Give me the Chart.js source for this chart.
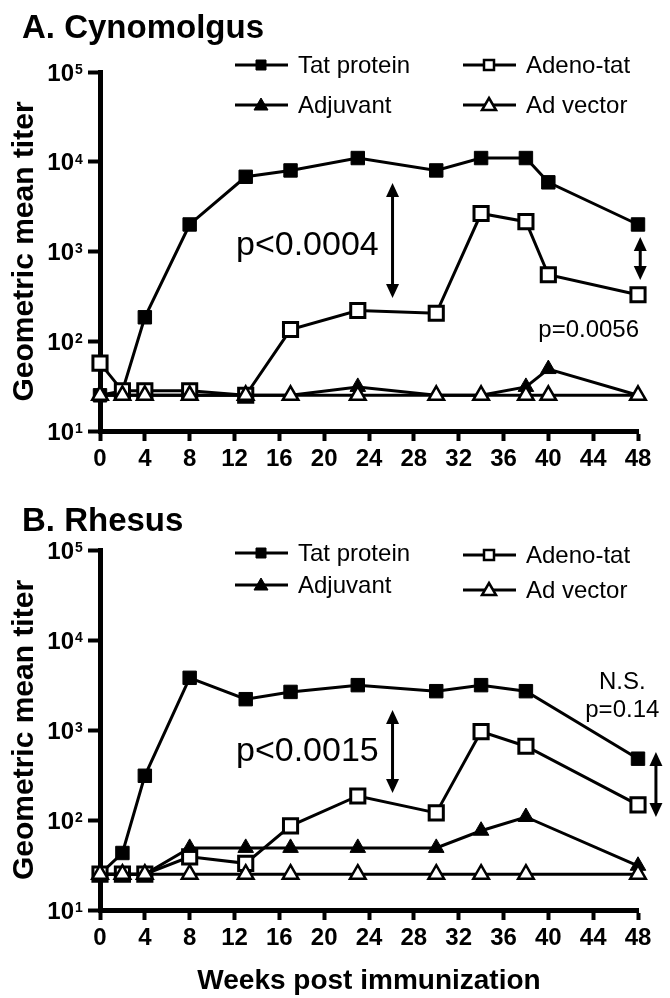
<!DOCTYPE html>
<html>
<head>
<meta charset="utf-8">
<script src="https://cdn.jsdelivr.net/npm/chart.js"></script>
<style>
  body { margin: 0; background: #fff; }
  #wrap { position: relative; width: 670px; height: 998px; }
  canvas { position: absolute; left: 0; }
</style>
</head>
<body>
<div id="wrap">
  <canvas id="chartA" width="670" height="490" style="top:0"></canvas>
  <canvas id="chartB" width="670" height="508" style="top:490px"></canvas>
</div>
<script>
const FONT = '"Liberation Sans", Arial, Helvetica, sans-serif';

// series names, tick values
const names = ["Tat protein", "Adeno-tat", "Adjuvant", "Ad vector"];
const yTicks = [10, 100, 1000, 10000, 100000];
const xTicks = [0, 4, 8, 12, 16, 20, 24, 28, 32, 36, 40, 44, 48];

// A. Cynomolgus
const weeksA = [0, 2, 4, 8, 13, 17, 23, 30, 34, 38, 40, 48];
const tatA = [25, 28, 185, 2000, 6800, 8000, 11000, 8000, 11000, 11000, 5900, 2000];
const adenoA = [57, 28, 28, 28, 25, 135, 220, 205, 2650, 2150, 550, 330];
const adjuvantA = [25, 25, 25, 25, 25, 25, 31, 25, 25, 31, 49, 25];
const vectorA = [25, 25, 25, 25, 25, 25, 25, 25, 25, 25, 25, 25];

// B. Rhesus
const weeksB = [0, 2, 4, 8, 13, 17, 23, 30, 34, 38, 48];
const tatB = [25, 43, 310, 3800, 2200, 2650, 3150, 2700, 3150, 2700, 480];
const adenoB = [25, 25, 25, 39, 33, 86, 185, 120, 960, 660, 147];
const adjuvantB = [25, 25, 25, 49, 49, 49, 49, 49, 76, 108, 31];
const vectorB = [25, 25, 25, 25, 25, 25, 25, 25, 25, 25, 25];

// marker look per series
const marks = [
  { style: "rect", fill: "#000", r: 9.5, bw: 1 },
  { style: "rect", fill: "#fff", r: 10, bw: 3 },
  { style: "triangle", fill: "#000", r: 9, bw: 1 },
  { style: "triangle", fill: "#fff", r: 9, bw: 2.5 },
];

// small legend marker
function legendMark(ctx, i, x, y) {
  const m = marks[i];
  ctx.fillStyle = m.fill;
  ctx.strokeStyle = "#000";
  ctx.lineWidth = m.fill === "#fff" ? 2.5 : 1;
  ctx.beginPath();
  if (m.style === "rect") {
    ctx.rect(x - 5, y - 5, 10, 10);
  } else {
    ctx.moveTo(x, y - 7);
    ctx.lineTo(x + 7, y + 5);
    ctx.lineTo(x - 7, y + 5);
    ctx.closePath();
  }
  ctx.fill();
  ctx.stroke();
}

function arrow(ctx, x, yTop, yBot) {
  const h = 14, w = 6.5;
  ctx.strokeStyle = "#000";
  ctx.fillStyle = "#000";
  ctx.lineWidth = 3;
  ctx.beginPath();
  ctx.moveTo(x, yTop + h - 2);
  ctx.lineTo(x, yBot - h + 2);
  ctx.stroke();
  ctx.beginPath();
  ctx.moveTo(x, yTop); ctx.lineTo(x - w, yTop + h); ctx.lineTo(x + w, yTop + h);
  ctx.closePath(); ctx.fill();
  ctx.beginPath();
  ctx.moveTo(x, yBot); ctx.lineTo(x - w, yBot - h); ctx.lineTo(x + w, yBot - h);
  ctx.closePath(); ctx.fill();
}

const decor = {
  id: "decor",
  afterDatasetsDraw(chart, args, o) {
    const ctx = chart.ctx, xs = chart.scales.x, ys = chart.scales.y;
    ctx.save();
    ctx.fillStyle = "#000";

    // panel title
    ctx.font = "bold 33px " + FONT;
    ctx.textAlign = "left";
    ctx.textBaseline = "alphabetic";
    ctx.fillText(o.title, 22, o.titleY);

    // y tick labels as 10 with exponent
    yTicks.forEach(v => {
      const py = ys.getPixelForValue(v);
      ctx.font = "bold 24px " + FONT;
      ctx.textAlign = "right";
      ctx.textBaseline = "middle";
      ctx.fillText("10", 74, py + 2);
      ctx.font = "bold 14px " + FONT;
      ctx.textAlign = "left";
      ctx.textBaseline = "top";
      ctx.fillText(String(Math.round(Math.log10(v))), 75, py - 9);
    });

    // arrows
    o.arrows.forEach(a => {
      arrow(ctx, xs.getPixelForValue(a.x), ys.getPixelForValue(a.from), ys.getPixelForValue(a.to));
    });

    // p-value notes
    ctx.fillStyle = "#000";
    ctx.textAlign = "center";
    ctx.textBaseline = "middle";
    o.notes.forEach(n => {
      ctx.font = n.size + "px " + FONT;
      ctx.fillText(n.text, xs.getPixelForValue(n.x), ys.getPixelForValue(n.y));
    });

    // legend
    o.legend.forEach(l => {
      ctx.strokeStyle = "#000";
      ctx.lineWidth = 3;
      ctx.beginPath();
      ctx.moveTo(l.x, l.y);
      ctx.lineTo(l.x + 53, l.y);
      ctx.stroke();
      legendMark(ctx, l.i, l.x + 26, l.y);
      ctx.fillStyle = "#000";
      ctx.font = "24px " + FONT;
      ctx.textAlign = "left";
      ctx.textBaseline = "middle";
      ctx.fillText(names[l.i], l.x + 63, l.y + 1);
    });
    ctx.restore();
  }
};

function makeChart(id, weeks, series, cfg) {
  return new Chart(document.getElementById(id), {
    type: "line",
    data: {
      datasets: series.map((vals, i) => ({
        label: names[i],
        data: weeks.map((w, k) => ({ x: w, y: vals[k] })),
        borderColor: "#000",
        borderWidth: 3,
        pointStyle: marks[i].style,
        pointRadius: marks[i].r,
        pointHoverRadius: marks[i].r,
        pointBackgroundColor: marks[i].fill,
        pointBorderColor: "#000",
        pointBorderWidth: marks[i].bw,
        tension: 0,
        clip: false,
        order: 4 - i,
      })),
    },
    options: {
      responsive: false,
      animation: false,
      events: [],
      layout: { padding: { top: cfg.top, right: 32, left: 0, bottom: 0 } },
      plugins: {
        legend: { display: false },
        tooltip: { enabled: false },
        decor: cfg.decor,
      },
      scales: {
        x: {
          type: "linear",
          min: 0,
          max: 48,
          afterBuildTicks: s => { s.ticks = xTicks.map(v => ({ value: v })); },
          afterFit: s => { s.height = cfg.xh; },
          border: { width: 5, color: "#000" },
          grid: { drawOnChartArea: false, tickLength: 10, tickWidth: 4, tickColor: "#000" },
          ticks: { color: "#000", font: { family: FONT, size: 24, weight: "bold" }, padding: 4, maxRotation: 0, autoSkip: false },
          title: {
            display: !!cfg.xTitle,
            text: cfg.xTitle || "",
            color: "#000",
            font: { family: FONT, size: 28, weight: "bold" },
            padding: { top: 0, bottom: 0 },
          },
        },
        y: {
          type: "logarithmic",
          min: 10,
          max: 100000,
          afterBuildTicks: s => { s.ticks = yTicks.map(v => ({ value: v })); },
          afterFit: s => { s.width = 100; },
          border: { width: 5, color: "#000" },
          grid: { drawOnChartArea: false, tickLength: 12, tickWidth: 4, tickColor: "#000" },
          ticks: { display: false },
          title: {
            display: true,
            text: "Geometric mean titer",
            color: "#000",
            font: { family: FONT, size: 30, weight: "bold" },
            padding: { top: 7, bottom: 0 },
          },
        },
      },
    },
    plugins: [decor],
  });
}

makeChart("chartA", weeksA, [tatA, adenoA, adjuvantA, vectorA], {
  top: 72,
  xh: 59,
  decor: {
    title: "A. Cynomolgus",
    titleY: 38,
    arrows: [
      { x: 26.1, from: 5800, to: 303 },
      { x: 48.2, from: 1450, to: 480 },
    ],
    notes: [
      { text: "p<0.0004", x: 18.5, y: 1165, size: 34 },
      { text: "p=0.0056", x: 43.6, y: 133, size: 24 },
    ],
    legend: [
      { i: 0, x: 235, y: 65 },
      { i: 1, x: 463, y: 65 },
      { i: 2, x: 235, y: 105 },
      { i: 3, x: 463, y: 105 },
    ],
  },
});

makeChart("chartB", weeksB, [tatB, adenoB, adjuvantB, vectorB], {
  top: 60,
  xh: 88,
  xTitle: "Weeks post immunization",
  decor: {
    title: "B. Rhesus",
    titleY: 41,
    arrows: [
      { x: 26.1, from: 1670, to: 200 },
      { x: 49.6, from: 570, to: 108 },
    ],
    notes: [
      { text: "p<0.0015", x: 18.5, y: 570, size: 34 },
      { text: "N.S.", x: 46.6, y: 3400, size: 24 },
      { text: "p=0.14", x: 46.6, y: 1670, size: 24 },
    ],
    legend: [
      { i: 0, x: 235, y: 63 },
      { i: 1, x: 463, y: 65 },
      { i: 2, x: 235, y: 95 },
      { i: 3, x: 463, y: 100 },
    ],
  },
});
</script>
</body>
</html>
